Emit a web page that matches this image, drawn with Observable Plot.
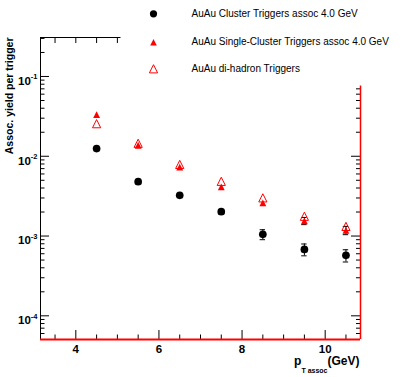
<!DOCTYPE html>
<html><head><meta charset="utf-8">
<script src="https://cdn.jsdelivr.net/npm/d3@7"></script>
<script src="https://cdn.jsdelivr.net/npm/@observablehq/plot@0.6"></script>
<style>body{margin:0;background:#fff}</style>
</head><body><div id="chart"></div>
<script>
// ---- data ----
const pT = [4.5, 5.5, 6.5, 7.5, 8.5, 9.5, 10.5];
const clusterYield = [0.0125, 0.0048, 0.00324, 0.00202, 0.00105, 0.00068, 0.000573];
const clusterErr   = [0.0003, 0.0001, 0.0001, 0.00012, 0.00015, 0.000115, 0.0001];
const singleYield  = [0.0332, 0.01375, 0.0073, 0.00414, 0.00261, 0.00155, 0.00118];
const singleErr    = [0, 0, 0, 0, 0, 0.00016, 0.00014];
const dihadronYield = [0.0256, 0.01455, 0.0079, 0.00485, 0.00301, 0.00177, 0.00132];
const seriesNames = [
  "AuAu Cluster Triggers assoc 4.0 GeV",
  "AuAu Single-Cluster Triggers assoc 4.0 GeV",
  "AuAu di-hadron Triggers"
];
const xTickValues = [4, 6, 8, 10];
const yTickValues = [1e-4, 1e-3, 1e-2, 1e-1];
const yTitle = "Assoc. yield per trigger";
const xTitleMain = "p", xTitleSub = "T assoc", xTitleUnit = "(GeV)";

// ---- derived tables ----
const xDomain = [3.15, 10.85];
const yDomain = [5.05e-5, 0.308];
const cluster = pT.map((x, i) => ({x, y: clusterYield[i], lo: clusterYield[i] - clusterErr[i], hi: clusterYield[i] + clusterErr[i]}));
const single = pT.map((x, i) => ({x, y: singleYield[i], lo: singleYield[i] - singleErr[i], hi: singleYield[i] + singleErr[i], e: singleErr[i]}));
const singleWithErr = single.filter(d => d.e > 0);
const dihadron = pT.map((x, i) => ({x, y: dihadronYield[i]}));

const xMinor = d3.range(3.5, 10.9, 0.5).filter(v => !xTickValues.includes(v));
const yMinor = [];
for (let k = -5; k <= -1; k++) for (let m = 2; m <= 9; m++) {
  const v = m * Math.pow(10, k);
  if (v > yDomain[0] && v < yDomain[1]) yMinor.push(v);
}
const xAll = xTickValues.concat(xMinor);

// ROOT-like triangle (bounding-box centred)
const triangle = {draw(ctx, size) {
  const r = Math.sqrt(size / Math.PI);
  ctx.moveTo(0, -r); ctx.lineTo(r, r); ctx.lineTo(-r, r); ctx.closePath();
}};

const font = "'Liberation Sans', Arial, Helvetica, sans-serif";
const red = "#ff0000";
const capHalf = 0.065;

const tickOnly = {label: null, tickFormat: () => "", fill: "none"};

const legendRowsDy = [-23.7, 4.7, 31.3];

const chart = Plot.plot({
  width: 401, height: 377,
  marginLeft: 40, marginRight: 41, marginTop: 37, marginBottom: 38,
  style: {fontFamily: font, background: "white", color: "black"},
  x: {domain: xDomain},
  y: {type: "log", domain: yDomain},
  marks: [
    // ticks (inward)
    Plot.axisX(xTickValues, {anchor: "bottom", tickSize: 9, dy: -9, ...tickOnly}),
    Plot.axisX(xMinor, {anchor: "bottom", tickSize: 4.5, dy: -4.5, ...tickOnly}),
    Plot.axisX(xAll, {anchor: "top", tickSize: 5, dy: 5, ...tickOnly}),
    Plot.axisY(yTickValues, {anchor: "left", tickSize: 9, dx: 9, ...tickOnly}),
    Plot.axisY(yMinor, {anchor: "left", tickSize: 4.5, dx: 4.5, ...tickOnly}),
    Plot.axisY(yTickValues, {anchor: "right", tickSize: 10, dx: -10, ...tickOnly}),
    Plot.axisY(yMinor, {anchor: "right", tickSize: 5, dx: -5, ...tickOnly}),
    // tick labels
    Plot.axisX(xTickValues, {anchor: "bottom", tickSize: 0, tickPadding: 5, label: null,
      fontSize: 11.5, fontWeight: "bold", tickFormat: d => String(d)}),
    Plot.axisY(yTickValues, {anchor: "left", tickSize: 0, tickPadding: 3, label: null,
      fontSize: 11.5, fontWeight: "bold", dy: 4.6, tickFormat: d => "10^" + Math.round(Math.log10(d))}),
    // frame
    Plot.ruleX([xDomain[0]], {stroke: "black", strokeWidth: 1}),
    Plot.ruleY([yDomain[1]], {stroke: "black", strokeWidth: 1}),
    Plot.ruleX([xDomain[1]], {stroke: red, strokeWidth: 1.5}),
    Plot.ruleY([yDomain[0]], {stroke: red, strokeWidth: 2}),
    // error bars
    Plot.ruleX(cluster, {x: "x", y1: "lo", y2: "hi", stroke: "black", strokeWidth: 1}),
    Plot.ruleY(cluster, {y: "lo", x1: d => d.x - capHalf, x2: d => d.x + capHalf, stroke: "black"}),
    Plot.ruleY(cluster, {y: "hi", x1: d => d.x - capHalf, x2: d => d.x + capHalf, stroke: "black"}),
    Plot.ruleX(singleWithErr, {x: "x", y1: "lo", y2: "hi", stroke: "black", strokeWidth: 1}),
    Plot.ruleY(singleWithErr, {y: "lo", x1: d => d.x - capHalf, x2: d => d.x + capHalf, stroke: "black"}),
    Plot.ruleY(singleWithErr, {y: "hi", x1: d => d.x - capHalf, x2: d => d.x + capHalf, stroke: "black"}),
    // points
    Plot.dot(single, {x: "x", y: "y", symbol: triangle, r: 3.4, fill: red, stroke: "none"}),
    Plot.dot(dihadron, {x: "x", y: "y", symbol: triangle, r: 4.1, fill: "none", stroke: red, strokeWidth: 1}),
    Plot.dot(cluster, {x: "x", y: "y", r: 3.85, fill: "black", stroke: "none"}),
    // legend box (covers frame top-right like the reference)
    Plot.frame({fill: "white", stroke: null, insetLeft: 80, insetRight: -41, insetTop: -37, insetBottom: 254}),
    Plot.dot([seriesNames[0]], {frameAnchor: "top-left", dx: 113, dy: legendRowsDy[0], r: 3.6, fill: "black", stroke: "none"}),
    Plot.dot([seriesNames[1]], {frameAnchor: "top-left", dx: 113, dy: legendRowsDy[1], symbol: triangle, r: 3.3, fill: red, stroke: "none"}),
    Plot.dot([seriesNames[2]], {frameAnchor: "top-left", dx: 113, dy: legendRowsDy[2], symbol: triangle, r: 4.1, fill: "none", stroke: red, strokeWidth: 1}),
    ...seriesNames.map((name, i) => Plot.text([name], {frameAnchor: "top-left", dx: 151, dy: legendRowsDy[i],
      text: d => d, textAnchor: "start", lineAnchor: "middle", fontSize: 10, fill: "black"})),
    // axis titles
    Plot.text([yTitle], {frameAnchor: "top-left", dx: -31, rotate: -90, text: d => d,
      textAnchor: "end", lineAnchor: "middle", fontSize: 10.5, fontWeight: "bold", fill: "black"}),
    Plot.text([xTitleMain + "_" + xTitleSub + "_" + xTitleUnit], {frameAnchor: "bottom-right", dx: -1, dy: 22, text: d => d,
      textAnchor: "end", lineAnchor: "middle", fontSize: 12, fontWeight: "bold", fill: "black"})
  ]
});

document.getElementById("chart").appendChild(chart);

// rich text: superscripts and subscript
d3.select(chart).selectAll("text").each(function() {
  const t = d3.select(this);
  if (t.selectAll("tspan").size() > 0) return;
  const s = t.text();
  const m = s.match(/^10\^(-?\d+)$/);
  if (m) {
    t.text(null);
    t.append("tspan").text("10");
    t.append("tspan").attr("dy", -5.5).attr("font-size", 7.5).text(m[1]);
    return;
  }
  if (s === xTitleMain + "_" + xTitleSub + "_" + xTitleUnit) {
    t.text(null);
    t.append("tspan").text(xTitleMain);
    t.append("tspan").attr("dy", 7.5).attr("font-size", 7).text(xTitleSub);
    t.append("tspan").attr("dy", -7.5).attr("font-size", 12).text(xTitleUnit);
  }
});
</script>
</body></html>
